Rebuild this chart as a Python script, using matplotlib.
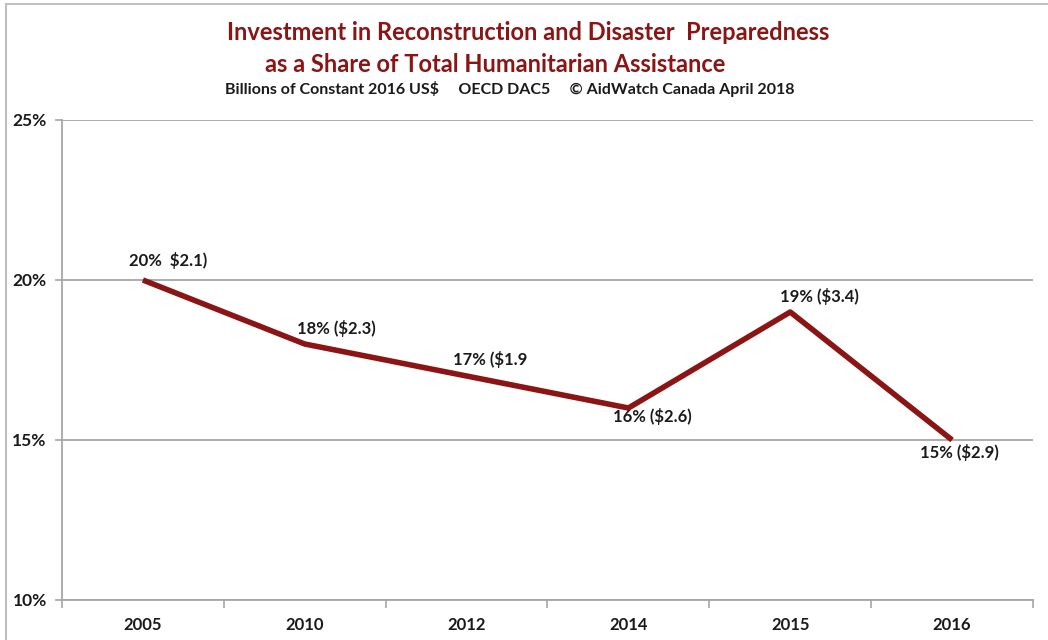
import matplotlib.pyplot as plt
from matplotlib.patches import Rectangle

years = ["2005", "2010", "2012", "2014", "2015", "2016"]
share = [20, 18, 17, 16, 19, 15]
labels = ["20%  $2.1)", "18% ($2.3)", "17% ($1.9", "16% ($2.6)", "19% ($3.4)", "15% ($2.9)"]
# label offsets in points (dx, dy)
offsets = [(18, 14), (23, 11), (17, 12), (17, -6), (21, 11), (5, -9)]

red = "#8B1414"
grey = "#A6A6A6"

plt.rcParams["font.family"] = ["Lato", "DejaVu Sans"]
plt.rcParams["font.weight"] = "bold"

fig = plt.figure(figsize=(10.48, 6.4), dpi=100)
fig.patches.append(Rectangle((6 / 1048, -0.1), 1.2, (640 - 4) / 640 + 0.1,
                             transform=fig.transFigure, fill=False,
                             edgecolor="#BFBFBF", linewidth=1.5))
ax = fig.add_axes([62 / 1048, 1 - 600 / 640, (1033 - 62) / 1048, 480 / 640])

x = list(range(len(years)))
ax.plot(x, share, color=red, linewidth=4, solid_capstyle="butt", zorder=3)
for xi, yi, lab, (dx, dy) in zip(x, share, labels, offsets):
    ax.annotate(lab, (xi, yi), xytext=(dx, dy), textcoords="offset points",
                ha="center", va="center", fontsize=12, fontweight="bold",
                color="#1A1A1A", zorder=4)

ax.set_xlim(-0.5, len(years) - 0.5)
ax.set_ylim(10, 25)
ax.set_yticks([10, 15, 20, 25])
ax.set_yticklabels(["10%", "15%", "20%", "25%"])
ax.set_xticks(x)
ax.set_xticklabels(years)
ax.set_xticks([i - 0.5 for i in range(len(years) + 1)], minor=True)
ax.tick_params(axis="x", which="major", length=0, pad=12, labelsize=12, labelcolor="#1A1A1A")
ax.tick_params(axis="x", which="minor", length=6, width=1.2, color=grey, direction="out")
ax.tick_params(axis="y", length=5, width=1.2, color=grey, pad=6, labelsize=12.5, labelcolor="#1A1A1A")
for lab in ax.get_xticklabels() + ax.get_yticklabels():
    lab.set_fontweight("bold")

ax.grid(axis="y", color=grey, linewidth=1.3)
ax.set_axisbelow(True)
ax.spines["top"].set_visible(False)
ax.spines["right"].set_visible(False)
ax.spines["left"].set_color(grey)
ax.spines["bottom"].set_color(grey)
ax.spines["left"].set_linewidth(1.3)
ax.spines["bottom"].set_linewidth(1.3)

fig.text(528 / 1048, 1 - 33 / 640, "Investment in Reconstruction and Disaster  Preparedness",
         ha="center", va="center", fontsize=17, fontweight="bold", color=red)
fig.text(495 / 1048, 1 - 64 / 640, "as a Share of Total Humanitarian Assistance",
         ha="center", va="center", fontsize=17, fontweight="bold", color=red)
fig.text(510 / 1048, 1 - 89 / 640,
         "Billions of Constant 2016 US$     OECD DAC5     \u00a9 AidWatch Canada April 2018",
         ha="center", va="center", fontsize=11.5, fontweight="bold", color="#1A1A1A")

fig.savefig("out.png", dpi=100)
